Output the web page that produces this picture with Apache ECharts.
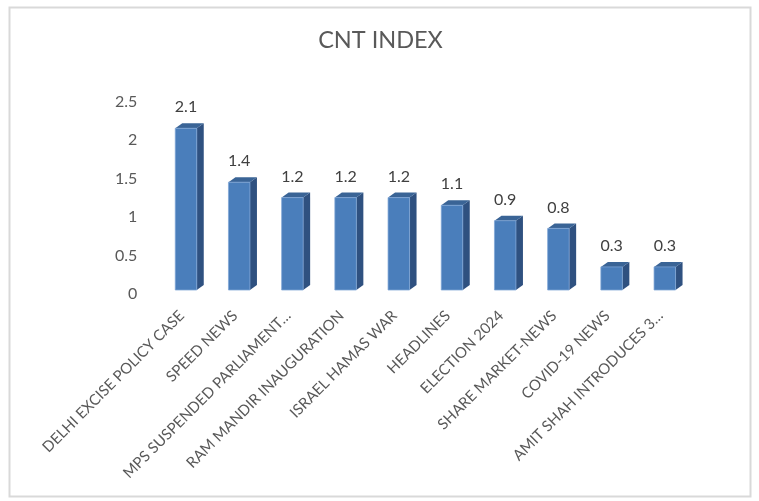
<!DOCTYPE html>
<html><head><meta charset="utf-8">
<style>html,body{margin:0;padding:0;background:#fff}#c{width:759px;height:501px}</style>
<script src="https://cdn.jsdelivr.net/npm/echarts@6/dist/echarts.min.js"></script>
</head><body><div id="c"></div>
<script>
const categories = ['DELHI EXCISE POLICY CASE','SPEED NEWS','MPS SUSPENDED PARLIAMENT…','RAM MANDIR INAUGURATION','ISRAEL HAMAS WAR','HEADLINES','ELECTION 2024','SHARE MARKET-NEWS','COVID-19 NEWS','AMIT SHAH INTRODUCES 3…'];
const values = [2.1,1.4,1.2,1.2,1.2,1.1,0.9,0.8,0.3,0.3];
const titleText = 'CNT INDEX';
const chart = echarts.init(document.getElementById('c'),null,{renderer:'canvas'});
const font = 'Lato, Carlito, sans-serif';
const dx = 7, dy = 5, barW = 21.5;
chart.setOption({
  animation:false,
  backgroundColor:'#fff',
  title:{text:titleText,left:375.5,top:23,textAlign:'center',textStyle:{fontFamily:font,fontSize:23.5,fontWeight:'normal',color:'#595959'}},
  grid:{left:159.4,top:97.5,width:532,height:192.5,containLabel:false},
  graphic:[{type:'rect',silent:true,z:-1,shape:{x:9.5,y:7.5,width:741,height:489},style:{fill:'#fff',stroke:'#d9d9d9',lineWidth:2}}],
  xAxis:{type:'category',data:categories,axisLine:{show:false},axisTick:{show:false},
    axisLabel:{interval:0,rotate:45,margin:19,fontFamily:font,fontSize:15,color:'#595959',
      formatter:v=>'{a|'+v+'}',rich:{a:{fontFamily:font,fontSize:15,color:'#595959',padding:[0,6,0,0]}}}},
  yAxis:{type:'value',min:0,max:2.5,interval:0.5,splitLine:{show:false},axisLine:{show:false},axisTick:{show:false},
    axisLabel:{margin:22,fontFamily:font,fontSize:16,color:'#595959',verticalAlign:'top',lineHeight:8}},
  series:[{type:'custom',data:values,encode:{x:0,y:0},
    renderItem(params,api){
      const v=values[params.dataIndex];
      const top=api.coord([params.dataIndex,v]);
      const base=api.coord([params.dataIndex,0]);
      const l=top[0]-barW/2,r=top[0]+barW/2,t=top[1],b=base[1];
      return {type:'group',children:[
        {type:'polygon',shape:{points:[[r,t],[r+dx,t-dy],[r+dx,b-dy],[r,b]]},style:{fill:'#2f5180'}},
        {type:'polygon',shape:{points:[[l,t],[l+dx,t-dy],[r+dx,t-dy],[r,t]]},style:{fill:'#3a6496'}},
        {type:'rect',shape:{x:l,y:t,width:barW,height:b-t},style:{fill:'#4a7ebb',stroke:'#7fa6d6',lineWidth:0.75}},
        {type:'text',x:top[0],y:t-13,style:{text:String(v),align:'center',verticalAlign:'bottom',fill:'#404040',font:'16px '+font}}
      ]};
    }}]
});
</script></body></html>
